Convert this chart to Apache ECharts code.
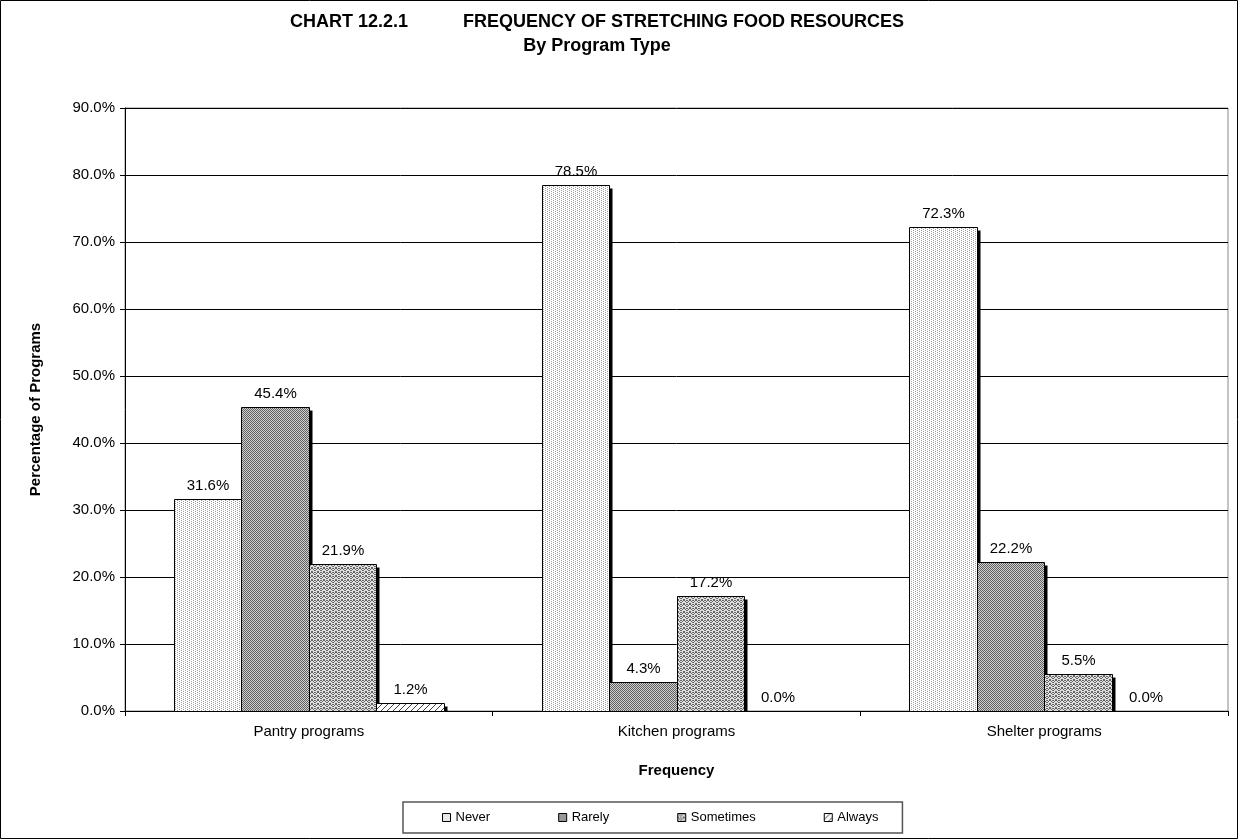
<!DOCTYPE html>
<html>
<head>
<meta charset="utf-8">
<script src="https://cdn.jsdelivr.net/npm/echarts@6/dist/echarts.min.js"></script>
<style>
html,body{margin:0;padding:0;background:#fff;}
#chart{width:1238px;height:839px;}
</style>
</head>
<body>
<div id="chart"></div>
<script>
const categories = ['Pantry programs', 'Kitchen programs', 'Shelter programs'];
const seriesNames = ['Never', 'Rarely', 'Sometimes', 'Always'];
const never = [31.6, 78.5, 72.3];
const rarely = [45.4, 4.3, 22.2];
const sometimes = [21.9, 17.2, 5.5];
const always = [1.2, 0.0, 0.0];
const yTicks = [0, 10, 20, 30, 40, 50, 60, 70, 80, 90];

function makePattern(w, h, bg, pts, fg) {
  const c = document.createElement('canvas');
  c.width = w; c.height = h;
  const ctx = c.getContext('2d');
  ctx.fillStyle = bg; ctx.fillRect(0, 0, w, h);
  ctx.fillStyle = fg;
  pts.forEach(p => ctx.fillRect(p[0], p[1], 1, 1));
  return { image: c, repeat: 'repeat' };
}
const patNever = makePattern(4, 4, '#ffffff', [[1,0],[1,2],[3,1],[3,3]], '#a0a0a0');
const patRarely = makePattern(2, 2, '#d0d0d0', [[0,0],[1,1]], '#606060');
const patSometimes = makePattern(6, 4, '#e0e0e0', [[0,0],[1,1],[2,2],[3,2],[4,1],[5,0],[0,3],[5,3],[2,0],[3,0]], '#666666');
const patAlways = makePattern(6, 6, '#ffffff', [[5,0],[4,1],[3,2],[2,3],[1,4],[0,5]], '#444444');
const patterns = [patNever, patRarely, patSometimes, patAlways];
const dataSets = [never, rarely, sometimes, always];

const FONT = "'Liberation Sans', Arial, sans-serif";
const GAP_RATIO = 0.266;

function renderBar(params, api) {
  const s = params.seriesIndex;
  const n = seriesNames.length;
  const cat = api.value(0);
  const val = api.value(1);
  const base = api.coord([cat, 0]);
  const top = api.coord([cat, val]);
  const band = api.size([1, 0])[0];
  const groupW = band * (1 - GAP_RATIO);
  const bw = groupW / n;
  const x0 = Math.round(base[0] - groupW / 2 + s * bw) + 0.5;
  const x1 = Math.round(base[0] - groupW / 2 + (s + 1) * bw) + 0.5;
  const yb = Math.round(base[1]) + 0.5;
  const yt = Math.round(top[1]) + 0.5;
  const h = yb - yt;
  const children = [];
  if (h > 0.5) {
    children.push({
      type: 'rect',
      shape: { x: x0 + 3, y: yt + 3, width: x1 - x0, height: Math.max(0, h - 3) },
      style: { fill: '#000' }
    });
    children.push({
      type: 'rect',
      shape: { x: x0, y: yt, width: x1 - x0, height: h },
      style: { fill: patterns[s], stroke: '#000', lineWidth: 1 }
    });
  }
  children.push({
    type: 'text',
    x: (x0 + x1) / 2,
    y: yt - 6,
    style: {
      text: val.toFixed(1) + '%',
      align: 'center', verticalAlign: 'bottom',
      font: '15px ' + FONT, fill: '#000'
    }
  });
  return { type: 'group', children: children };
}

const chart = echarts.init(document.getElementById('chart'), null, { renderer: 'canvas' });

chart.setOption({
  backgroundColor: '#ffffff',
  animation: false,
  title: {
    text: 'CHART 12.2.1           FREQUENCY OF STRETCHING FOOD RESOURCES\nBy Program Type',
    left: 592,
    top: 5,
    textAlign: 'center',
    textStyle: { fontFamily: FONT, fontWeight: 'bold', fontSize: 18, lineHeight: 24, color: '#000' }
  },
  graphic: [{
    type: 'rect', silent: true,
    shape: { x: 0.5, y: 0.5, width: 1237, height: 838 },
    style: { fill: 'none', stroke: '#000', lineWidth: 1 }
  }],
  legend: {
    data: seriesNames,
    left: 403, top: 802,
    padding: [9, 24, 9, 39],
    itemGap: 68,
    itemWidth: 8, itemHeight: 8,
    icon: 'rect',
    itemStyle: { borderColor: '#000', borderWidth: 1 },
    borderColor: '#555', borderWidth: 1.5,
    textStyle: { fontFamily: FONT, fontSize: 13, color: '#000' }
  },
  grid: {
    left: 125, right: 10, top: 108, bottom: 128,
    show: true, borderColor: '#888', borderWidth: 1, backgroundColor: '#fff'
  },
  xAxis: {
    type: 'category',
    data: categories,
    name: 'Frequency',
    nameLocation: 'middle',
    nameGap: 52,
    nameTextStyle: { fontFamily: FONT, fontWeight: 'bold', fontSize: 15, color: '#000' },
    axisLine: { lineStyle: { color: '#000', width: 1 } },
    axisTick: { show: true, length: 5, lineStyle: { color: '#000' } },
    axisLabel: { fontFamily: FONT, fontSize: 15, color: '#000', margin: 13 },
    splitLine: { show: false }
  },
  yAxis: {
    type: 'value',
    min: 0, max: 90, interval: 10,
    name: 'Percentage of Programs',
    nameLocation: 'middle',
    nameGap: 82,
    nameTextStyle: { fontFamily: FONT, fontWeight: 'bold', fontSize: 15, color: '#000' },
    axisLine: { show: true, lineStyle: { color: '#000', width: 1 } },
    axisTick: { show: true, length: 5, lineStyle: { color: '#000' } },
    axisLabel: {
      fontFamily: FONT, fontSize: 15, color: '#000', margin: 10,
      formatter: v => (yTicks.includes(v) ? v.toFixed(1) + '%' : '')
    },
    splitLine: { show: true, lineStyle: { color: '#000', width: 1 } }
  },
  series: seriesNames.map((name, i) => ({
    name: name,
    type: 'custom',
    renderItem: renderBar,
    encode: { x: 0, y: 1 },
    itemStyle: { color: patterns[i], borderColor: '#000', borderWidth: 1 },
    data: dataSets[i].map((v, j) => [j, v]),
    z: 2 + i
  }))
});
</script>
</body>
</html>
